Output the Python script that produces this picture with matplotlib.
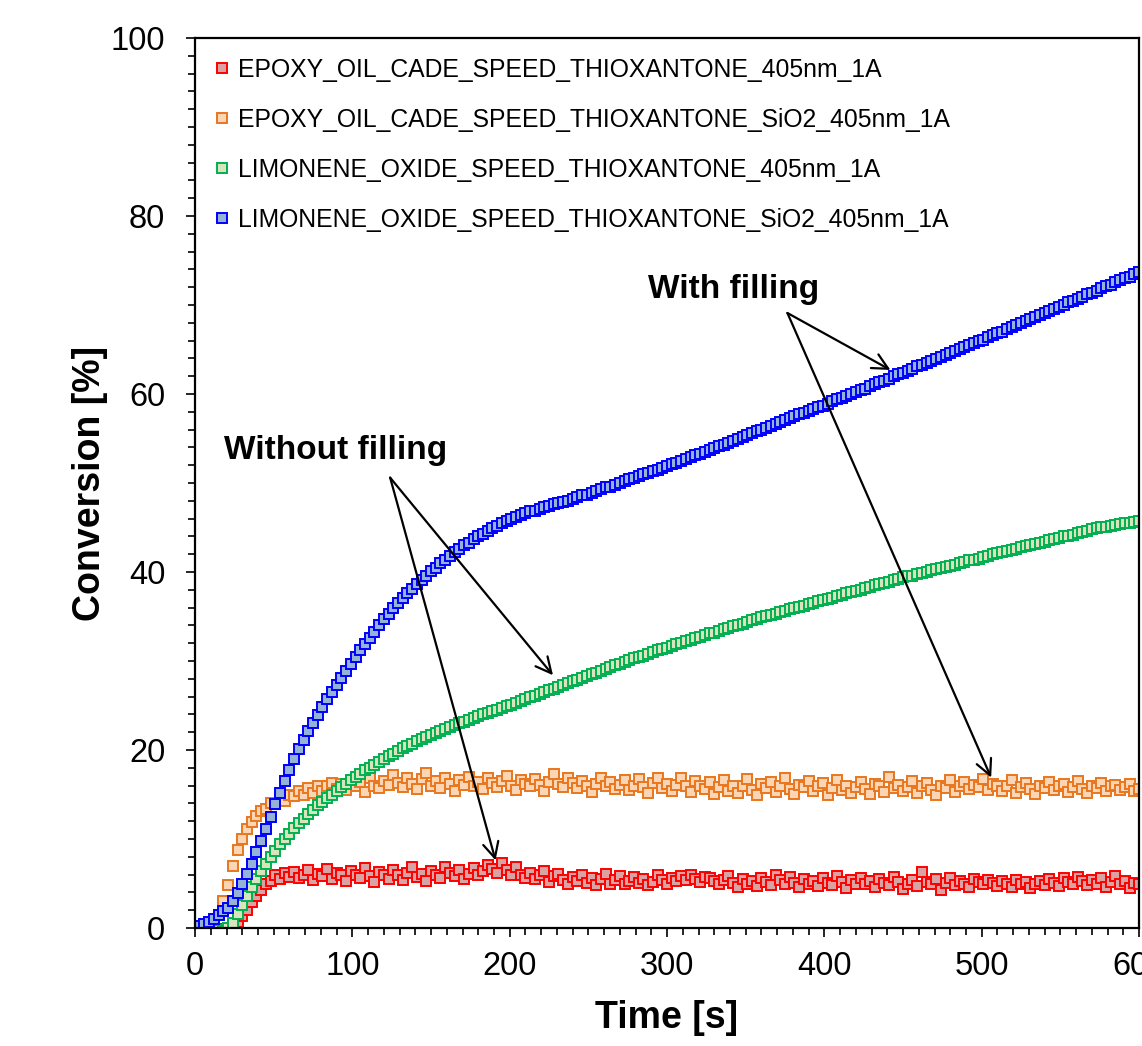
import matplotlib
matplotlib.use("Agg")
import matplotlib.pyplot as plt
import numpy as np
from matplotlib.ticker import MultipleLocator

plt.rcParams['font.family'] = ['Liberation Sans', 'DejaVu Sans']

# time axis, one reading every 3 s
time_s = np.arange(0, 601, 3)

# conversion [%], 201 values per series
epoxy = [
    0.0, 0.0, -0.1, 0.0, -0.2, -0.1, -0.2, 0.0, 0.3, 0.7, 1.3,
    2.0, 2.9, 3.6, 4.3, 5.0, 5.3, 5.9, 5.5, 6.2, 5.7,
    6.3, 5.6, 6.0, 6.5, 5.4, 6.1, 5.8, 6.6, 5.5, 6.2,
    5.9, 5.3, 6.4, 6.0, 5.6, 6.7, 5.8, 5.2, 6.3, 6.0,
    5.5, 6.5, 5.9, 5.4, 6.2, 6.8, 5.7, 6.1, 5.3, 6.4,
    6.0, 5.6, 6.9, 6.2, 5.8, 6.5, 5.5, 6.1, 6.7, 5.9,
    6.4, 7.1, 6.6, 6.2, 7.3, 6.5, 5.9, 6.8, 6.0, 5.6,
    6.2, 5.5, 5.9, 6.4, 5.2, 5.8, 6.1, 5.4, 4.9, 5.7,
    5.3, 6.0, 5.1, 5.6, 4.8, 5.5, 6.1, 5.0, 5.4, 5.8,
    4.9, 5.3, 5.7, 5.1, 5.5, 4.8, 5.2, 5.9, 5.4, 5.0,
    5.6, 5.3, 5.8, 5.4, 5.9, 5.5, 5.2, 5.7, 5.6, 5.3,
    4.9, 5.4, 5.8, 5.1, 4.6, 5.5, 5.0, 5.3, 4.7, 5.6,
    5.2, 4.8, 5.9, 5.4, 4.9, 5.7, 5.1, 4.6, 5.5, 5.0,
    5.3, 4.7, 5.6, 5.1, 4.8, 5.8, 5.2, 4.5, 5.4, 5.0,
    5.6, 4.9, 5.3, 4.6, 5.5, 5.1, 4.8, 5.7, 5.2, 4.4,
    5.0, 5.4, 4.7, 6.3, 5.2, 4.9, 5.5, 4.3, 5.1, 5.6,
    4.8, 5.3, 5.0, 4.6, 5.5, 5.2, 4.9, 5.4, 5.1, 4.7,
    5.3, 5.0, 4.6, 5.4, 4.9, 5.2, 4.5, 5.0, 5.3, 4.8,
    5.5, 5.1, 4.7, 5.6, 5.2, 4.9, 5.7, 5.3, 4.8, 5.4,
    5.0, 5.6, 4.6, 5.2, 5.8, 4.9, 5.3, 4.5, 5.1, 5.0,
]

epoxy_sio2 = [
    0.0, 0.2, 0.4, 0.7, 0.9, 1.5, 3.0, 4.8, 7.0, 8.8, 10.0,
    11.1, 11.9, 12.6, 13.2, 13.4, 14.1, 13.9, 14.6, 14.3, 15.0,
    14.8, 15.4, 14.9, 15.7, 15.2, 16.0, 15.4, 15.9, 16.3, 15.6,
    16.2, 15.5, 16.6, 15.9, 16.4, 15.3, 16.8, 16.0, 15.7, 16.5,
    16.1, 17.2, 16.3, 15.8, 16.9, 16.2, 15.6, 16.7, 17.4, 16.0,
    16.5, 15.7, 16.9, 16.2, 15.4, 16.6, 16.1, 17.0, 15.9, 16.4,
    15.6, 16.8, 16.3, 15.8, 16.5, 17.1, 16.0, 15.5, 16.6, 16.2,
    15.9, 16.7, 16.1, 15.4, 16.4, 17.3, 16.2, 15.8, 16.9, 16.3,
    15.7, 16.5, 16.0, 15.3, 16.2, 16.8, 15.9, 16.4, 15.6, 16.1,
    16.6, 15.5, 16.0, 16.7, 15.8, 15.2, 16.3, 16.9, 15.7, 16.2,
    15.4, 16.1, 16.8, 15.9, 15.3, 16.5, 16.0, 15.6, 16.4, 15.1,
    15.8, 16.6, 15.4, 16.0, 15.2, 15.9, 16.7, 15.5, 15.0, 16.2,
    15.7, 16.4, 15.3, 15.9, 16.8, 15.6, 15.1, 16.1, 15.8, 16.5,
    15.4, 15.9, 16.3, 15.0, 15.7, 16.6, 15.5, 16.0, 15.2, 15.8,
    16.4, 15.6, 15.1, 16.2, 15.9, 15.3, 17.0, 15.7, 16.1, 15.4,
    15.8, 16.5, 15.2, 15.9, 16.3, 15.5, 15.0, 16.0, 15.7, 16.6,
    15.3, 15.9, 16.4, 15.6, 16.1, 15.8, 16.7, 15.5, 16.2, 15.9,
    15.4, 16.0, 16.6, 15.2, 15.8, 16.3, 15.6, 15.1, 16.0, 15.7,
    16.4, 15.5, 15.9, 16.2, 15.3, 15.8, 16.5, 15.6, 15.2, 16.0,
    15.7, 16.3, 15.4, 15.9, 16.1, 15.5, 15.8, 16.2, 15.4, 15.6,
]

limonene = [
    -0.1, 0.0, -0.2, 0.1, -0.1, -0.2, -0.3, 0.0, 0.6, 1.6, 2.6,
    3.6, 4.6, 5.5, 6.4, 7.2, 8.0, 8.7, 9.4, 10.0, 10.6,
    11.2, 11.8, 12.3, 12.8, 13.3, 13.8, 14.2, 14.6, 15.0, 15.4,
    15.8, 16.2, 16.6, 17.0, 17.3, 17.7, 18.0, 18.3, 18.7, 19.0,
    19.3, 19.6, 19.9, 20.2, 20.4, 20.7, 21.0, 21.2, 21.5, 21.7,
    21.9, 22.1, 22.4, 22.6, 22.8, 23.0, 23.2, 23.4, 23.6, 23.8,
    24.0, 24.2, 24.4, 24.5, 24.7, 24.9, 25.1, 25.3, 25.5, 25.7,
    25.9, 26.1, 26.3, 26.5, 26.7, 26.9, 27.1, 27.3, 27.5, 27.7,
    27.9, 28.1, 28.3, 28.5, 28.7, 28.9, 29.1, 29.3, 29.5, 29.7,
    29.9, 30.1, 30.3, 30.5, 30.6, 30.8, 31.0, 31.2, 31.4, 31.5,
    31.7, 31.9, 32.0, 32.2, 32.4, 32.6, 32.7, 32.9, 33.1, 33.2,
    33.4, 33.6, 33.7, 33.9, 34.1, 34.2, 34.4, 34.6, 34.7, 34.9,
    35.0, 35.2, 35.3, 35.5, 35.6, 35.8, 35.9, 36.1, 36.2, 36.4,
    36.5, 36.7, 36.8, 37.0, 37.1, 37.3, 37.4, 37.6, 37.7, 37.9,
    38.0, 38.2, 38.3, 38.5, 38.6, 38.8, 38.9, 39.1, 39.2, 39.4,
    39.5, 39.6, 39.8, 39.9, 40.0, 40.2, 40.3, 40.4, 40.6, 40.7,
    40.8, 41.0, 41.1, 41.3, 41.4, 41.5, 41.7, 41.8, 42.0, 42.1,
    42.2, 42.4, 42.5, 42.6, 42.8, 42.9, 43.0, 43.2, 43.3, 43.4,
    43.6, 43.7, 43.8, 44.0, 44.1, 44.2, 44.4, 44.5, 44.6, 44.8,
    44.9, 45.0, 45.1, 45.2, 45.3, 45.4, 45.5, 45.5, 45.6, 45.7,
]

limonene_sio2 = [
    0.0, 0.2, 0.4, 0.7, 1.0, 1.5, 1.9, 2.3, 3.0, 3.9, 5.0,
    6.1, 7.2, 8.5, 9.8, 11.1, 12.5, 13.9, 15.2, 16.5, 17.8,
    19.0, 20.1, 21.1, 22.1, 23.0, 23.9, 24.8, 25.7, 26.5, 27.3,
    28.1, 28.9, 29.7, 30.5, 31.2, 31.9, 32.6, 33.3, 34.0, 34.7,
    35.3, 35.9, 36.5, 37.1, 37.6, 38.1, 38.6, 39.1, 39.6, 40.1,
    40.5, 41.0, 41.4, 41.8, 42.2, 42.6, 43.0, 43.3, 43.7, 44.0,
    44.3, 44.6, 44.9, 45.2, 45.5, 45.7, 46.0, 46.2, 46.4, 46.6,
    46.8, 46.9, 47.1, 47.3, 47.4, 47.6, 47.7, 47.9, 48.0, 48.2,
    48.4, 48.6, 48.7, 48.9, 49.1, 49.3, 49.5, 49.6, 49.8, 50.0,
    50.2, 50.4, 50.6, 50.8, 51.0, 51.1, 51.3, 51.5, 51.7, 51.9,
    52.1, 52.3, 52.5, 52.7, 52.9, 53.1, 53.3, 53.5, 53.7, 53.9,
    54.1, 54.3, 54.5, 54.7, 54.9, 55.2, 55.4, 55.6, 55.8, 56.0,
    56.2, 56.4, 56.6, 56.8, 57.1, 57.3, 57.5, 57.7, 57.9, 58.1,
    58.3, 58.5, 58.7, 58.9, 59.2, 59.4, 59.6, 59.8, 60.0, 60.2,
    60.4, 60.6, 60.9, 61.1, 61.3, 61.5, 61.7, 62.0, 62.2, 62.4,
    62.6, 62.8, 63.1, 63.3, 63.5, 63.7, 63.9, 64.2, 64.4, 64.6,
    64.8, 65.0, 65.3, 65.5, 65.7, 65.9, 66.1, 66.4, 66.6, 66.8,
    67.0, 67.3, 67.5, 67.7, 68.0, 68.2, 68.4, 68.6, 68.9, 69.1,
    69.3, 69.6, 69.8, 70.0, 70.3, 70.5, 70.7, 70.9, 71.2, 71.4,
    71.6, 71.9, 72.1, 72.3, 72.6, 72.8, 73.0, 73.2, 73.5, 73.7,
]

labels = [
    'EPOXY_OIL_CADE_SPEED_THIOXANTONE_405nm_1A',
    'EPOXY_OIL_CADE_SPEED_THIOXANTONE_SiO2_405nm_1A',
    'LIMONENE_OXIDE_SPEED_THIOXANTONE_405nm_1A',
    'LIMONENE_OXIDE_SPEED_THIOXANTONE_SiO2_405nm_1A',
]
edge_colors = ['#ff0000', '#e8771e', '#00b050', '#0000ff']
face_colors = ['#d9a3a3', '#fcd5b4', '#d8e4bc', '#95b3d7']

fig = plt.figure(figsize=(11.42, 10.46), dpi=100)
ax = fig.add_axes([0.1708, 0.1128, 0.8266, 0.8509])

for y, lab, ec, fc in zip([epoxy, epoxy_sio2, limonene, limonene_sio2], labels, edge_colors, face_colors):
    ax.plot(time_s, y, linestyle='none', marker='s', markersize=7.3,
            markerfacecolor=fc, markeredgecolor=ec, markeredgewidth=1.4, label=lab)

ax.set_xlim(0, 600)
ax.set_ylim(0, 100)
ax.xaxis.set_major_locator(MultipleLocator(100))
ax.xaxis.set_minor_locator(MultipleLocator(10))
ax.yaxis.set_major_locator(MultipleLocator(20))
ax.yaxis.set_minor_locator(MultipleLocator(2))
ax.tick_params(which='both', direction='out', width=1.2, labelsize=23.5)
ax.tick_params(which='major', length=6.5)
ax.tick_params(which='minor', length=5)
ax.tick_params(axis='y', pad=15)
ax.tick_params(axis='x', pad=10)
for sp in ax.spines.values():
    sp.set_linewidth(1.6)

ax.set_xlabel('Time [s]', fontsize=27, fontweight='bold', labelpad=13)
ax.set_ylabel('Conversion [%]', fontsize=27, fontweight='bold', labelpad=2)

ax.legend(loc='upper left', frameon=False, fontsize=17.8, handlelength=0.55,
          handletextpad=0.4, labelspacing=1.05, borderaxespad=0.4,
          bbox_to_anchor=(0.0, 1.0), markerscale=0.9)

# annotations
ax.text(89, 53.7, 'Without filling', fontsize=24, fontweight='bold', ha='center', va='center')
ax.text(342, 71.7, 'With filling', fontsize=24, fontweight='bold', ha='center', va='center')
arrow = dict(arrowstyle='->', lw=1.6, color='black', mutation_scale=28, shrinkA=0, shrinkB=0)
ax.annotate('', xy=(227.5, 28.4), xytext=(124, 50.6), arrowprops=arrow)
ax.annotate('', xy=(191, 7.6), xytext=(124, 50.6), arrowprops=arrow)
ax.annotate('', xy=(442, 62.7), xytext=(376.5, 69.1), arrowprops=arrow)
ax.annotate('', xy=(506, 16.9), xytext=(376.5, 69.1), arrowprops=arrow)

fig.savefig('out.png', dpi=100)
